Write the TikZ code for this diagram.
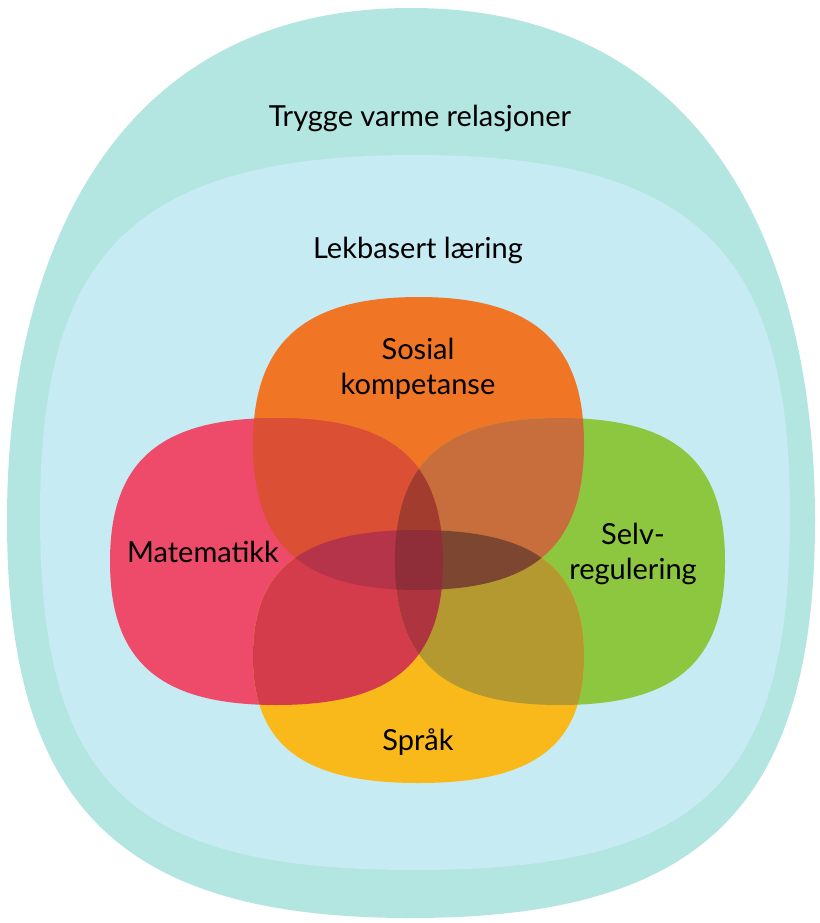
\documentclass[tikz,border=0pt]{standalone}
\usepackage{fontspec}
\setmainfont{Lato}
\definecolor{cOuter}{HTML}{B3E5E1}
\definecolor{cInner}{HTML}{C6EBF3}
\definecolor{cO}{HTML}{F07525}
\definecolor{cP}{HTML}{EE4A6A}
\definecolor{cG}{HTML}{8DC63F}
\definecolor{cY}{HTML}{F9B91A}
\definecolor{cOP}{HTML}{DB4F34}
\definecolor{cOG}{HTML}{C76E3C}
\definecolor{cPY}{HTML}{D43C4C}
\definecolor{cGY}{HTML}{B3992F}
\definecolor{cOPY}{HTML}{B6344A}
\definecolor{cOGY}{HTML}{7D4631}
\definecolor{cOPG}{HTML}{A23C2F}
\definecolor{cPGY}{HTML}{AE3540}
\definecolor{cAll}{HTML}{8F2E38}
% #1 cx, #2 cy, #3 a, #4 top b, #5 bottom b,
% #6 top vertical factor, #7 top horizontal factor, #8 bottom factor
\newcommand\blobpath[8]{%
 ({#1+#3},{#2}) .. controls ({#1+#3},{#2-#6*#4}) and ({#1+#7*#3},{#2-#4}) .. ({#1},{#2-#4})
 .. controls ({#1-#7*#3},{#2-#4}) and ({#1-#3},{#2-#6*#4}) .. ({#1-#3},{#2})
 .. controls ({#1-#3},{#2+#8*#5}) and ({#1-#8*#3},{#2+#5}) .. ({#1},{#2+#5})
 .. controls ({#1+#8*#3},{#2+#5}) and ({#1+#3},{#2+#8*#5}) .. ({#1+#3},{#2}) -- cycle}
\begin{document}
\begin{tikzpicture}[x=1pt,y=-1pt,
  lbl/.style={font=\fontsize{29}{35}\selectfont, text=black, align=center, inner sep=0pt}]
\useasboundingbox (0,0) rectangle (819,923);
\fill[white] (0,0) rectangle (819,923);
\def\shOut{\blobpath{411}{520}{404}{512}{398}{0.50}{0.75}{0.72}}
\def\shIn{\blobpath{415}{515}{375}{360}{355}{0.70}{0.78}{0.76}}
\def\shO{\blobpath{418.5}{443.5}{165.5}{146.5}{146.5}{0.68}{0.70}{0.70}}
\def\shP{\blobpath{276.5}{561.5}{166.5}{143.5}{143.5}{0.70}{0.70}{0.70}}
\def\shG{\blobpath{560}{561.5}{165}{143.5}{143.5}{0.70}{0.70}{0.70}}
\def\shY{\blobpath{418.5}{656.5}{165.5}{126.5}{126.5}{0.70}{0.70}{0.70}}
\fill[cOuter] \shOut;
\fill[cInner] \shIn;
\fill[cO] \shO;
\fill[cP] \shP;
\fill[cG] \shG;
\fill[cY] \shY;
% pairs
\begin{scope}\clip \shO; \fill[cOP] \shP; \fill[cOG] \shG; \end{scope}
\begin{scope}\clip \shY; \fill[cPY] \shP; \fill[cGY] \shG; \end{scope}
% triples
\begin{scope}\clip \shO; \clip \shY; \fill[cOPY] \shP; \fill[cOGY] \shG; \end{scope}
\begin{scope}\clip \shP; \clip \shG; \fill[cOPG] \shO; \fill[cPGY] \shY; \end{scope}
% all four
\begin{scope}\clip \shO; \clip \shY; \clip \shP; \fill[cAll] \shG; \end{scope}
% labels
\node[lbl] (outer) at (420,118) {Trygge varme relasjoner};
\node[lbl] (inner) at (418,250) {Lekbasert læring};
\node[lbl] (sosial) at (418,369) {Sosial\\kompetanse};
\node[lbl] (mat) at (203,552) {Matematikk};
\node[lbl] (selv) at (633,554) {Selv-\\regulering};
\node[lbl] (sprak) at (418,742) {Språk};
\end{tikzpicture}
\end{document}
